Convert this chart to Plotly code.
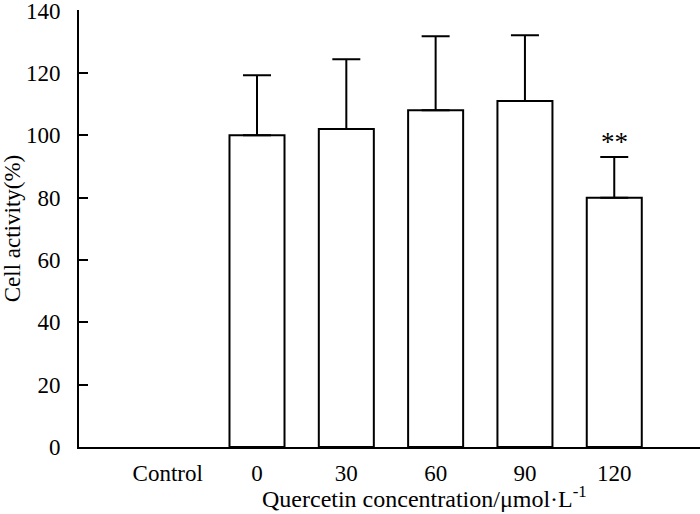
import plotly.graph_objects as go

categories = ["Control", "0", "30", "60", "90", "120"]
cell_activity = [None, 100, 102, 108, 111, 80]
error_upper = [None, 19.3, 22.4, 23.8, 21.1, 13.0]
significance = ["", "", "", "", "", "**"]
y_ticks = [0, 20, 40, 60, 80, 100, 120, 140]
x_title = "Quercetin concentration/μmol·L<sup>-1</sup>"
y_title = "Cell activity(%)"

x_pos = list(range(len(categories)))

fig = go.Figure()
fig.add_trace(go.Bar(
    x=x_pos,
    y=cell_activity,
    width=0.616,
    marker=dict(color="white", line=dict(color="black", width=2)),
    error_y=dict(type="data", symmetric=False, array=error_upper,
                 arrayminus=[0] * len(categories),
                 color="black", thickness=2, width=14),
    showlegend=False,
))

for i, s in enumerate(significance):
    if s:
        fig.add_annotation(x=x_pos[i], y=cell_activity[i] + error_upper[i],
                           text=s, showarrow=False, yanchor="bottom", yshift=-2,
                           font=dict(family="Liberation Serif", size=27, color="black"))

# x-axis title, placed under the bars (as in the reference, offset right of plot centre)
fig.add_annotation(xref="paper", yref="paper", x=0.557, y=0, yshift=-50,
                   xanchor="center", yanchor="middle", showarrow=False,
                   text=x_title,
                   font=dict(family="Liberation Serif", size=24, color="black"))

fig.update_layout(
    width=700, height=514,
    margin=dict(l=79, r=0, t=10, b=67),
    plot_bgcolor="white", paper_bgcolor="white",
    font=dict(family="Liberation Serif", size=23, color="black"),
    xaxis=dict(
        range=[-0.993, 5.96],
        tickmode="array", tickvals=x_pos, ticktext=categories,
        showline=True, linecolor="black", linewidth=2,
        ticks="", showgrid=False, zeroline=False,
        automargin=False,
        ticklabelstandoff=4,
    ),
    yaxis=dict(
        range=[0, 140.2], tickmode="array", tickvals=y_ticks,
        ticktext=[str(v) for v in y_ticks],
        showline=True, linecolor="black", linewidth=2,
        ticks="inside", ticklen=9, tickwidth=2, tickcolor="black",
        showgrid=False, zeroline=False,
        automargin=False,
        ticklabeloverflow="allow",
        ticklabelstandoff=12,
        title=dict(text=y_title, standoff=4, font=dict(size=23)),
    ),
)

fig.write_html("out.html", config={"displayModeBar": False},
               post_script="document.body.style.margin='0';document.body.style.padding='0';")
